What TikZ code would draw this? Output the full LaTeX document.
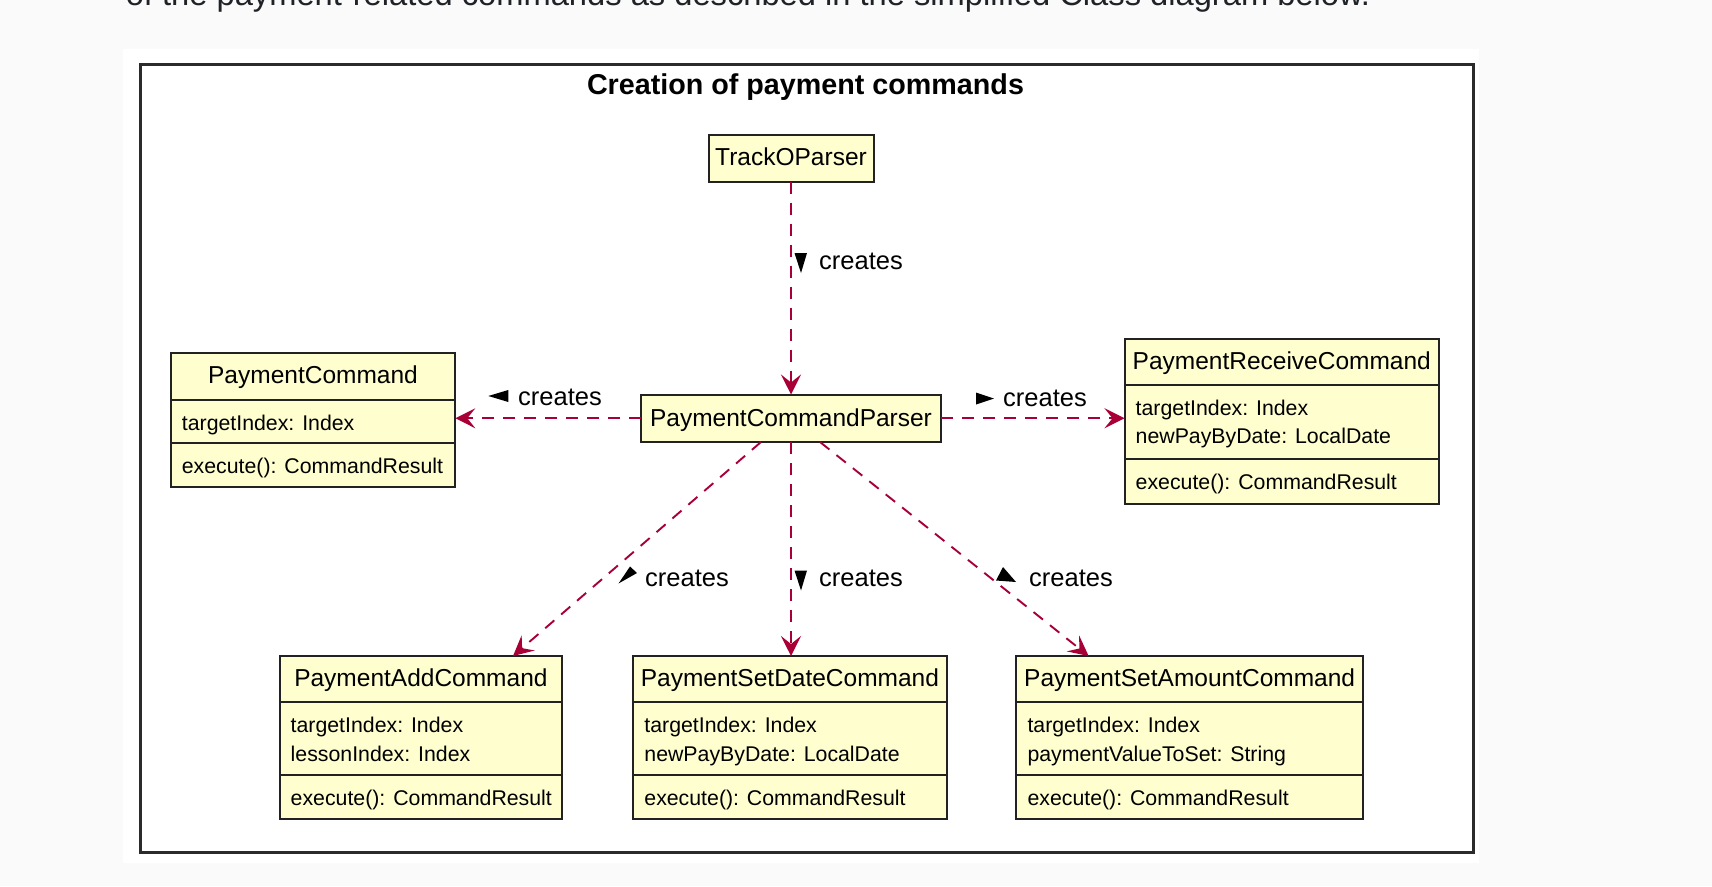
\documentclass[tikz,border=0pt]{standalone}
\usepackage{fontspec}
\setmainfont{Liberation Sans}
\usetikzlibrary{arrows.meta,calc}
\definecolor{clsfill}{HTML}{FEFECE}
\definecolor{arrowc}{HTML}{A80036}
\definecolor{pagebg}{HTML}{FAFAFA}
\definecolor{frameline}{HTML}{2B2B2B}
\definecolor{toptext}{HTML}{1F2328}
\definecolor{boxline}{HTML}{222222}
\tikzset{
  clsbox/.style={draw=boxline, line width=2pt, fill=clsfill, inner sep=0pt, outer sep=0pt},
  clsline/.style={draw=boxline, line width=2pt},
  clsname/.style={inner sep=0pt, anchor=base, font=\fontsize{24.5}{29}\selectfont},
  clsattr/.style={inner sep=0pt, anchor=base west, font=\fontsize{21.3}{28.4}\selectfont},
  rel/.style={draw=arrowc, line width=1.9pt, dash pattern=on 12pt off 9pt,
    -{Stealth[length=20pt,width=20pt,inset=8pt]}},
  rellabel/.style={inner sep=0pt, anchor=base west, font=\fontsize{25.5}{30}\selectfont},
  dirmark/.style={fill=black},
}
% #1 id, #2 left, #3 top, #4 right, #5 bottom, #6 sep1, #7 sep2, #8 title
\newcommand\umlcls[8]{%
  \node[clsbox, anchor=north west, minimum width={(#4-#2)*1pt}, minimum height={(#5-#3)*1pt}] (#1) at (#2,#3) {};
  \draw[clsline] (#2,#6) -- (#4,#6);
  \draw[clsline] (#2,#7) -- (#4,#7);
  \node[clsname] (#1-n) at ({(#2+#4)/2},{#3+30.5}) {#8};
  \node[clsattr] (#1-m) at ({#2+11},{#7+30.5}) {execute(): CommandResult};
}
\begin{document}
\begin{tikzpicture}[x=1pt,y=-1pt]
\useasboundingbox (0,0) rectangle (1712,886);
\fill[pagebg] (0,0) rectangle (1712,886);
\node[anchor=base west, inner sep=0pt, text=toptext] (intro) at (125.6,5)
  {\resizebox{1244pt}{!}{of the payment-related commands as described in the simplified Class diagram below.}};
\fill[white] (123.4,49) rectangle (1479.4,862.5);
\node[draw=frameline, line width=3pt, anchor=north west, inner sep=0pt,
  minimum width=1333.5pt, minimum height=788pt] (frame) at (138.5,63) {};
\node[inner sep=0pt, anchor=base, font=\bfseries\fontsize{28.7}{32}\selectfont] (title) at (805.5,94) {Creation of payment commands};

% simple classes
\node[clsbox, minimum width=165pt, minimum height=46.5pt] (tp) at (791,158.25) {};
\node[clsname] (tp-n) at (791,165.7) {TrackOParser};
\node[clsbox, minimum width=300pt, minimum height=47.5pt] (pcp) at (791,418.25) {};
\node[clsname] (pcp-n) at (791,426.5) {PaymentCommandParser};

% classes with compartments
\umlcls{pc}{170.7}{352.7}{455.3}{486.7}{400}{443.3}{PaymentCommand}
\node[clsattr] (pc-a1) at (181.7,430.8) {targetIndex: Index};

\umlcls{prc}{1124.5}{338.5}{1439}{504}{385}{458.5}{PaymentReceiveCommand}
\node[clsattr] (prc-a1) at (1135.5,415.5) {targetIndex: Index};
\node[clsattr] (prc-a2) at (1135.5,443.9) {newPayByDate: LocalDate};

\umlcls{pac}{279.5}{656}{562.3}{819}{702.3}{775}{PaymentAddCommand}
\node[clsattr] (pac-a1) at (290.5,732.8) {targetIndex: Index};
\node[clsattr] (pac-a2) at (290.5,761.2) {lessonIndex: Index};

\umlcls{psd}{633.2}{656}{946.6}{819}{702.3}{775}{PaymentSetDateCommand}
\node[clsattr] (psd-a1) at (644.2,732.8) {targetIndex: Index};
\node[clsattr] (psd-a2) at (644.2,761.2) {newPayByDate: LocalDate};

\umlcls{psa}{1016.3}{656}{1363}{819}{702.3}{775}{PaymentSetAmountCommand}
\node[clsattr] (psa-a1) at (1027.3,732.8) {targetIndex: Index};
\node[clsattr] (psa-a2) at (1027.3,761.2) {paymentValueToSet: String};

% relations
\draw[rel] (tp.south) -- (pcp.north);
\draw[rel] (pcp.west) -- (pcp.west -| pc.east);
\draw[rel] (pcp.east) -- (pcp.east -| prc.west);
\draw[rel] ($(pcp.south)+(-30,0)$) -- ($(pac.north)+(92.1,0)$);
\draw[rel] (pcp.south) -- (pcp.south |- psd.north);
\draw[rel] ($(pcp.south)+(29,0)$) -- ($(psa.north)+(-101,0)$);

% labels
\node[rellabel] (l1) at (819,269) {creates};
\fill[dirmark] (794.5,253) -- (807,253) -- (801,273) -- cycle;
\node[rellabel] (l2) at (518,405) {creates};
\fill[dirmark] (488.3,396) -- (508.3,390) -- (508.3,402) -- cycle;
\node[rellabel] (l3) at (1003,406) {creates};
\fill[dirmark] (976,392.5) -- (976,404.5) -- (994,398.5) -- cycle;
\node[rellabel] (l4) at (645,586.5) {creates};
\fill[dirmark] (618.5,583.5) -- (630,566.5) -- (637,573) -- cycle;
\node[rellabel] (l5) at (819,586.5) {creates};
\fill[dirmark] (794.5,570.5) -- (807,570.5) -- (801,590.5) -- cycle;
\node[rellabel] (l6) at (1029,586.5) {creates};
\fill[dirmark] (1003,567) -- (996,580.5) -- (1016,582) -- cycle;
\end{tikzpicture}
\end{document}
